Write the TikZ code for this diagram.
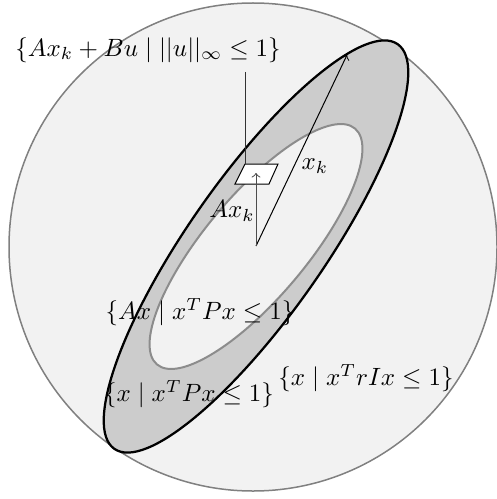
\documentclass[tikz,border=0pt]{standalone}
\begin{document}
\begin{tikzpicture}[x=0.40pt,y=-0.40pt,
  lbl/.style={inner sep=0pt},
  setcircle/.style={draw=black!50, line width=0.6pt, fill=black!5},
  outerell/.style={draw=black, line width=0.9pt, fill=black!20},
  innerell/.style={draw=black!45, line width=0.8pt, fill=black!5},
  vec/.style={->, line width=0.4pt},
  pgram/.style={draw=black, line width=0.4pt, fill=white}]
\useasboundingbox (0,0) rectangle (496,499);
\coordinate (c) at (256,246.5);
\coordinate (cc) at (253,247);
\draw[setcircle] (cc) circle [radius=244];
\draw[outerell, rotate around={55:(c)}] (c) ellipse [x radius=247, y radius=68];
\draw[innerell, rotate around={50:(c)}] (c) ellipse [x radius=154, y radius=51];
% parallelogram
\coordinate (p1) at (235,184);
\coordinate (p2) at (269,184);
\coordinate (p3) at (278,164);
\coordinate (p4) at (245,164);
\draw[pgram] (p1) -- (p2) -- (p3) -- (p4) -- cycle;
% vectors
\coordinate (o) at (256,246);
\coordinate (xk) at (347,55);
\coordinate (axk) at (256,173);
\draw[vec] (o) -- (xk);
\draw[vec, black!70] (o) -- (axk);
% labels
\node[lbl] (top) at (148,50) {$\{Ax_k+Bu \mid ||u||_\infty \le 1\}$};
\coordinate (lt) at (245,72);
\draw[line width=0.4pt, black!80] (lt) -- (p4);
\node[lbl] (lxk) at (315,166) {$x_k$};
\node[lbl] (laxk) at (232,211) {$Ax_k$};
\node[lbl] (lax) at (200,312) {$\{Ax \mid x^T P x \le 1\}$};
\node[lbl] (lx) at (189,394) {$\{x \mid x^T P x \le 1\}$};
\node[lbl] (lr) at (366,378) {$\{x \mid x^T rI x \le 1\}$};
\end{tikzpicture}
\end{document}
